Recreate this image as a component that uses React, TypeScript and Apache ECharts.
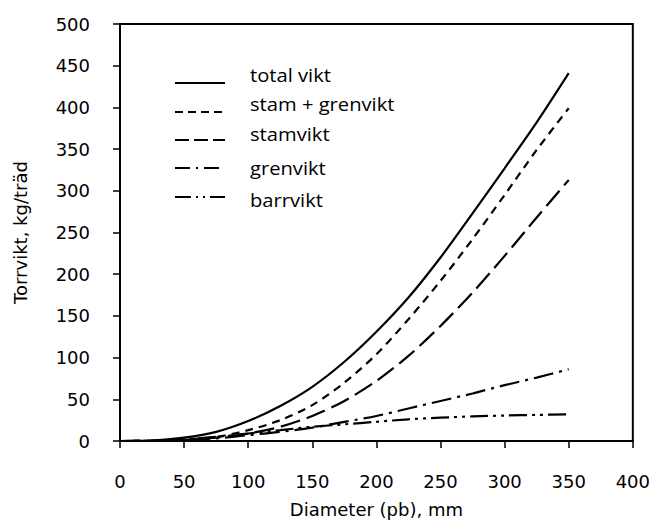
import React, { useEffect, useRef } from "react";
import * as echarts from "echarts";

const diameters = [0, 25, 50, 75, 100, 125, 150, 175, 200, 225, 250, 275, 300, 325, 350];
const totalVikt = [0, 0.5, 4, 11, 24, 42, 65, 95, 131, 172, 220, 273, 327, 382, 441];
const stamGrenvikt = [0, 0.3, 2, 5, 13, 25, 43, 70, 104, 146, 192, 242, 295, 349, 399];
const stamvikt = [0, 0.2, 1.5, 4, 9, 17, 30, 48, 72, 102, 138, 178, 222, 268, 313];
const grenvikt = [0, 0.2, 1, 3, 7, 11, 16, 23, 30, 39, 48, 57, 67, 76, 86];
const barrvikt = [0, 0.5, 2, 5, 9, 13, 17, 20, 23, 26, 28, 29.5, 30.5, 31.3, 32];

const seriesNames = ["total vikt", "stam + grenvikt", "stamvikt", "grenvikt", "barrvikt"];
const seriesValues = [totalVikt, stamGrenvikt, stamvikt, grenvikt, barrvikt];
const curveDashes: (string | number[])[] = ["solid", [8, 6], [20, 7], [20, 6, 3, 6], [18, 5, 3, 5, 3, 5]];
const legendDashes: (number[] | null)[] = [null, [8, 5], [14, 5], [15, 6, 2, 6], [16, 5, 2, 5, 2, 5]];

const xTitle = "Diameter (pb), mm";
const yTitle = "Torrvikt, kg/träd";

export default function App() {
  const ref = useRef<HTMLDivElement>(null);
  useEffect(() => {
    if (!ref.current) return;
    const chart = echarts.init(ref.current, null, { renderer: "svg" });
    const axisFont = "DejaVu Sans";
    const lineY = [83, 112, 140, 168, 197];
    const textY = [75, 104, 134, 168, 200];
    const graphic: any[] = [];
    seriesNames.forEach((n, i) => {
      graphic.push({
        type: "line",
        shape: { x1: 175, y1: lineY[i], x2: 225, y2: lineY[i] },
        style: { stroke: "#000", lineWidth: 2.2, lineDash: legendDashes[i] || undefined },
      });
      graphic.push({
        type: "text",
        x: 250,
        y: textY[i],
        scaleX: 1.12,
        style: {
          text: n,
          fill: "#000",
          fontFamily: "Open Sans",
          fontSize: 18,
          verticalAlign: "middle",
          align: "left",
        },
      });
    });
    chart.setOption({
      animation: false,
      backgroundColor: "#fff",
      grid: {
        left: 120,
        right: 15,
        top: 24,
        bottom: 81,
        show: true,
        borderColor: "#000",
        borderWidth: 2,
        containLabel: false,
      },
      xAxis: {
        type: "value",
        min: 0,
        max: 400,
        interval: 50,
        name: xTitle,
        nameLocation: "middle",
        nameGap: 59,
        nameTextStyle: { color: "#000", fontSize: 18, fontFamily: axisFont },
        axisLine: { show: true, lineStyle: { color: "#000", width: 2 } },
        axisTick: { show: true, inside: false, length: 7, lineStyle: { color: "#000", width: 1.5 } },
        axisLabel: { color: "#000", fontSize: 18, fontFamily: axisFont, margin: 31 },
        splitLine: { show: false },
      },
      yAxis: {
        type: "value",
        min: 0,
        max: 500,
        interval: 50,
        name: yTitle,
        nameLocation: "middle",
        nameGap: 91,
        nameTextStyle: { color: "#000", fontSize: 18, fontFamily: axisFont },
        axisLine: { show: true, lineStyle: { color: "#000", width: 2 } },
        axisTick: { show: true, inside: false, length: 7, lineStyle: { color: "#000", width: 1.5 } },
        axisLabel: { color: "#000", fontSize: 18, fontFamily: axisFont, margin: 30 },
        splitLine: { show: false },
      },
      series: seriesNames.map((n, i) => ({
        type: "line",
        name: n,
        data: diameters.map((d, j) => [d, seriesValues[i][j]]),
        smooth: 0.3,
        showSymbol: false,
        symbol: "none",
        lineStyle: { color: "#000", width: 2.2, type: curveDashes[i] },
      })),
      graphic,
    });
    return () => chart.dispose();
  }, []);
  return (
    <div
      ref={ref}
      style={{ position: "absolute", left: 0, top: 0, width: 653, height: 523 }}
    />
  );
}
